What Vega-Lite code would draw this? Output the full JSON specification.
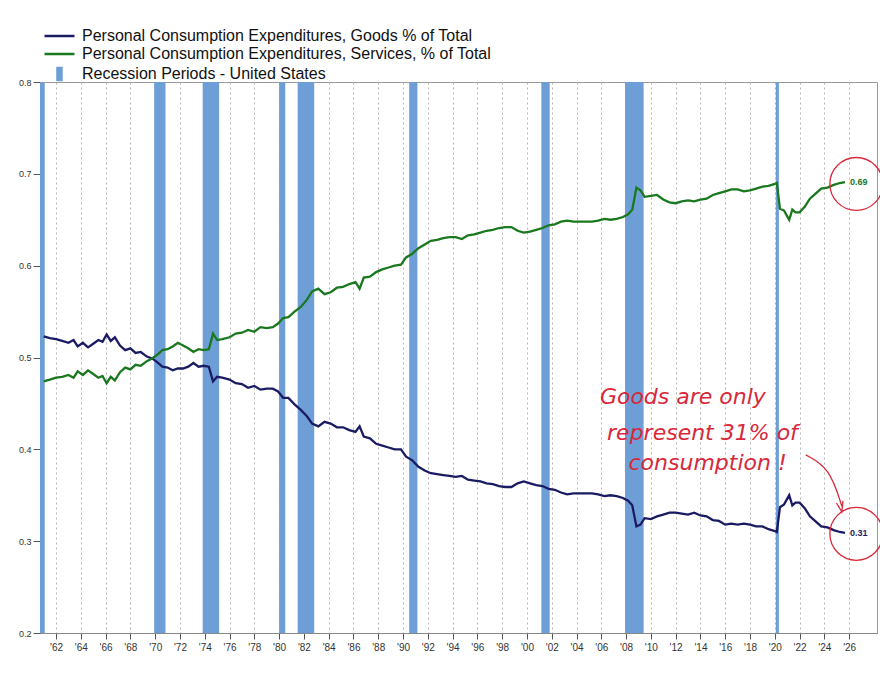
{
  "$schema": "https://vega.github.io/schema/vega-lite/v6.json",
  "width": 837,
  "height": 551,
  "autosize": {"type": "none"},
  "padding": {"left": 40, "top": 82, "right": 3, "bottom": 40},
  "background": "white",
  "config": {
    "font": "Liberation Sans",
    "view": {"stroke": "#9a9a9a", "strokeWidth": 1},
    "legend": {
      "orient": "none",
      "legendX": 3,
      "legendY": -55,
      "padding": 0,
      "symbolSize": 225,
      "symbolStrokeWidth": 2.5,
      "labelFontSize": 16,
      "labelFont": "Liberation Sans",
      "labelColor": "#111",
      "labelOffset": 21,
      "rowPadding": 1,
      "labelLimit": 600
    }
  },
  "datasets": {
    "recessions": [
      {"start": "1960-04-01", "end": "1961-02-01"},
      {"start": "1969-12-01", "end": "1970-11-01"},
      {"start": "1973-11-01", "end": "1975-03-01"},
      {"start": "1980-01-01", "end": "1980-07-01"},
      {"start": "1981-07-01", "end": "1982-11-01"},
      {"start": "1990-07-01", "end": "1991-03-01"},
      {"start": "2001-03-01", "end": "2001-11-01"},
      {"start": "2007-12-01", "end": "2009-06-01"},
      {"start": "2020-02-01", "end": "2020-05-01"}
    ],
    "goods": [
      {"date": "1961-01-01", "value": 0.523}, {"date": "1961-07-01", "value": 0.521}, {"date": "1962-01-01", "value": 0.520},
      {"date": "1962-07-01", "value": 0.518}, {"date": "1963-01-01", "value": 0.516}, {"date": "1963-06-01", "value": 0.519},
      {"date": "1963-10-01", "value": 0.512}, {"date": "1964-03-01", "value": 0.516}, {"date": "1964-08-01", "value": 0.511},
      {"date": "1965-01-01", "value": 0.515}, {"date": "1965-06-01", "value": 0.519}, {"date": "1965-10-01", "value": 0.517},
      {"date": "1966-02-01", "value": 0.525}, {"date": "1966-06-01", "value": 0.518}, {"date": "1966-10-01", "value": 0.522},
      {"date": "1967-03-01", "value": 0.513}, {"date": "1967-08-01", "value": 0.508}, {"date": "1968-01-01", "value": 0.510},
      {"date": "1968-06-01", "value": 0.505}, {"date": "1968-11-01", "value": 0.506}, {"date": "1969-05-01", "value": 0.501},
      {"date": "1969-10-01", "value": 0.499}, {"date": "1970-03-01", "value": 0.495}, {"date": "1970-08-01", "value": 0.490},
      {"date": "1971-01-01", "value": 0.489}, {"date": "1971-06-01", "value": 0.486}, {"date": "1971-11-01", "value": 0.488},
      {"date": "1972-04-01", "value": 0.488}, {"date": "1972-09-01", "value": 0.490}, {"date": "1973-02-01", "value": 0.494},
      {"date": "1973-07-01", "value": 0.490}, {"date": "1973-12-01", "value": 0.491}, {"date": "1974-05-01", "value": 0.490},
      {"date": "1974-09-01", "value": 0.474}, {"date": "1975-01-01", "value": 0.479}, {"date": "1975-06-01", "value": 0.478},
      {"date": "1976-01-01", "value": 0.476}, {"date": "1976-07-01", "value": 0.472}, {"date": "1977-01-01", "value": 0.471},
      {"date": "1977-07-01", "value": 0.467}, {"date": "1978-01-01", "value": 0.469}, {"date": "1978-07-01", "value": 0.465},
      {"date": "1979-01-01", "value": 0.466}, {"date": "1979-07-01", "value": 0.466}, {"date": "1979-12-01", "value": 0.463},
      {"date": "1980-05-01", "value": 0.456}, {"date": "1980-10-01", "value": 0.456}, {"date": "1981-04-01", "value": 0.449},
      {"date": "1981-10-01", "value": 0.443}, {"date": "1982-04-01", "value": 0.436}, {"date": "1982-09-01", "value": 0.428},
      {"date": "1983-03-01", "value": 0.425}, {"date": "1983-09-01", "value": 0.430}, {"date": "1984-03-01", "value": 0.428},
      {"date": "1984-09-01", "value": 0.424}, {"date": "1985-03-01", "value": 0.424}, {"date": "1985-09-01", "value": 0.421},
      {"date": "1986-03-01", "value": 0.419}, {"date": "1986-07-01", "value": 0.425}, {"date": "1986-11-01", "value": 0.414},
      {"date": "1987-05-01", "value": 0.412}, {"date": "1987-11-01", "value": 0.406}, {"date": "1988-05-01", "value": 0.404},
      {"date": "1988-11-01", "value": 0.402}, {"date": "1989-05-01", "value": 0.400}, {"date": "1989-11-01", "value": 0.400},
      {"date": "1990-04-01", "value": 0.392}, {"date": "1990-10-01", "value": 0.388}, {"date": "1991-04-01", "value": 0.381},
      {"date": "1991-10-01", "value": 0.377}, {"date": "1992-04-01", "value": 0.374}, {"date": "1992-10-01", "value": 0.373},
      {"date": "1993-04-01", "value": 0.372}, {"date": "1993-10-01", "value": 0.371}, {"date": "1994-04-01", "value": 0.370},
      {"date": "1994-10-01", "value": 0.371}, {"date": "1995-04-01", "value": 0.367}, {"date": "1995-10-01", "value": 0.366},
      {"date": "1996-04-01", "value": 0.365}, {"date": "1996-10-01", "value": 0.363}, {"date": "1997-04-01", "value": 0.362},
      {"date": "1997-10-01", "value": 0.360}, {"date": "1998-04-01", "value": 0.359}, {"date": "1998-10-01", "value": 0.359},
      {"date": "1999-04-01", "value": 0.363}, {"date": "1999-10-01", "value": 0.365}, {"date": "2000-04-01", "value": 0.363},
      {"date": "2000-10-01", "value": 0.361}, {"date": "2001-04-01", "value": 0.360}, {"date": "2001-10-01", "value": 0.357},
      {"date": "2002-04-01", "value": 0.356}, {"date": "2002-10-01", "value": 0.353}, {"date": "2003-04-01", "value": 0.351},
      {"date": "2003-10-01", "value": 0.352}, {"date": "2004-04-01", "value": 0.352}, {"date": "2004-10-01", "value": 0.352},
      {"date": "2005-04-01", "value": 0.352}, {"date": "2005-10-01", "value": 0.351}, {"date": "2006-04-01", "value": 0.349},
      {"date": "2006-10-01", "value": 0.350}, {"date": "2007-04-01", "value": 0.349}, {"date": "2007-10-01", "value": 0.347},
      {"date": "2008-03-01", "value": 0.344}, {"date": "2008-07-01", "value": 0.339}, {"date": "2008-11-01", "value": 0.316},
      {"date": "2009-03-01", "value": 0.318}, {"date": "2009-07-01", "value": 0.325}, {"date": "2010-01-01", "value": 0.324},
      {"date": "2010-07-01", "value": 0.327}, {"date": "2011-01-01", "value": 0.329}, {"date": "2011-07-01", "value": 0.331},
      {"date": "2012-01-01", "value": 0.331}, {"date": "2012-07-01", "value": 0.330}, {"date": "2013-01-01", "value": 0.329},
      {"date": "2013-07-01", "value": 0.331}, {"date": "2014-01-01", "value": 0.328}, {"date": "2014-07-01", "value": 0.327},
      {"date": "2015-01-01", "value": 0.323}, {"date": "2015-07-01", "value": 0.322}, {"date": "2016-01-01", "value": 0.318},
      {"date": "2016-07-01", "value": 0.319}, {"date": "2017-01-01", "value": 0.318}, {"date": "2017-07-01", "value": 0.319},
      {"date": "2018-01-01", "value": 0.318}, {"date": "2018-07-01", "value": 0.316}, {"date": "2019-01-01", "value": 0.316},
      {"date": "2019-07-01", "value": 0.313}, {"date": "2020-01-01", "value": 0.311}, {"date": "2020-03-01", "value": 0.310},
      {"date": "2020-06-01", "value": 0.337}, {"date": "2020-10-01", "value": 0.340}, {"date": "2021-03-01", "value": 0.350},
      {"date": "2021-06-01", "value": 0.339}, {"date": "2021-09-01", "value": 0.342}, {"date": "2022-01-01", "value": 0.342},
      {"date": "2022-06-01", "value": 0.336}, {"date": "2022-11-01", "value": 0.327}, {"date": "2023-04-01", "value": 0.322},
      {"date": "2023-10-01", "value": 0.316}, {"date": "2024-04-01", "value": 0.315}, {"date": "2024-10-01", "value": 0.312},
      {"date": "2025-04-01", "value": 0.310}, {"date": "2025-09-01", "value": 0.309}
    ],
    "services": [
      {"date": "1961-01-01", "value": 0.474}, {"date": "1961-07-01", "value": 0.476}, {"date": "1962-01-01", "value": 0.478},
      {"date": "1962-07-01", "value": 0.479}, {"date": "1963-01-01", "value": 0.481}, {"date": "1963-06-01", "value": 0.478},
      {"date": "1963-10-01", "value": 0.485}, {"date": "1964-03-01", "value": 0.481}, {"date": "1964-08-01", "value": 0.486},
      {"date": "1965-01-01", "value": 0.482}, {"date": "1965-06-01", "value": 0.478}, {"date": "1965-10-01", "value": 0.480},
      {"date": "1966-02-01", "value": 0.472}, {"date": "1966-06-01", "value": 0.479}, {"date": "1966-10-01", "value": 0.475},
      {"date": "1967-03-01", "value": 0.484}, {"date": "1967-08-01", "value": 0.489}, {"date": "1968-01-01", "value": 0.487},
      {"date": "1968-06-01", "value": 0.492}, {"date": "1968-11-01", "value": 0.491}, {"date": "1969-05-01", "value": 0.496},
      {"date": "1969-10-01", "value": 0.499}, {"date": "1970-03-01", "value": 0.503}, {"date": "1970-08-01", "value": 0.508},
      {"date": "1971-01-01", "value": 0.509}, {"date": "1971-06-01", "value": 0.512}, {"date": "1971-11-01", "value": 0.516},
      {"date": "1972-04-01", "value": 0.513}, {"date": "1972-09-01", "value": 0.510}, {"date": "1973-02-01", "value": 0.506},
      {"date": "1973-07-01", "value": 0.509}, {"date": "1973-12-01", "value": 0.508}, {"date": "1974-05-01", "value": 0.509},
      {"date": "1974-09-01", "value": 0.526}, {"date": "1975-01-01", "value": 0.519}, {"date": "1975-06-01", "value": 0.520},
      {"date": "1976-01-01", "value": 0.522}, {"date": "1976-07-01", "value": 0.526}, {"date": "1977-01-01", "value": 0.527},
      {"date": "1977-07-01", "value": 0.530}, {"date": "1978-01-01", "value": 0.528}, {"date": "1978-07-01", "value": 0.533},
      {"date": "1979-01-01", "value": 0.532}, {"date": "1979-07-01", "value": 0.533}, {"date": "1979-12-01", "value": 0.537},
      {"date": "1980-05-01", "value": 0.543}, {"date": "1980-10-01", "value": 0.544}, {"date": "1981-04-01", "value": 0.550},
      {"date": "1981-10-01", "value": 0.555}, {"date": "1982-04-01", "value": 0.563}, {"date": "1982-09-01", "value": 0.572},
      {"date": "1983-03-01", "value": 0.575}, {"date": "1983-09-01", "value": 0.569}, {"date": "1984-03-01", "value": 0.571},
      {"date": "1984-09-01", "value": 0.576}, {"date": "1985-03-01", "value": 0.577}, {"date": "1985-09-01", "value": 0.580},
      {"date": "1986-03-01", "value": 0.582}, {"date": "1986-07-01", "value": 0.575}, {"date": "1986-11-01", "value": 0.587},
      {"date": "1987-05-01", "value": 0.588}, {"date": "1987-11-01", "value": 0.593}, {"date": "1988-05-01", "value": 0.596},
      {"date": "1988-11-01", "value": 0.598}, {"date": "1989-05-01", "value": 0.600}, {"date": "1989-11-01", "value": 0.601},
      {"date": "1990-04-01", "value": 0.609}, {"date": "1990-10-01", "value": 0.613}, {"date": "1991-04-01", "value": 0.619},
      {"date": "1991-10-01", "value": 0.623}, {"date": "1992-04-01", "value": 0.627}, {"date": "1992-10-01", "value": 0.628},
      {"date": "1993-04-01", "value": 0.630}, {"date": "1993-10-01", "value": 0.631}, {"date": "1994-04-01", "value": 0.631},
      {"date": "1994-10-01", "value": 0.629}, {"date": "1995-04-01", "value": 0.633}, {"date": "1995-10-01", "value": 0.634},
      {"date": "1996-04-01", "value": 0.636}, {"date": "1996-10-01", "value": 0.638}, {"date": "1997-04-01", "value": 0.639},
      {"date": "1997-10-01", "value": 0.641}, {"date": "1998-04-01", "value": 0.642}, {"date": "1998-10-01", "value": 0.642},
      {"date": "1999-04-01", "value": 0.638}, {"date": "1999-10-01", "value": 0.636}, {"date": "2000-04-01", "value": 0.637},
      {"date": "2000-10-01", "value": 0.639}, {"date": "2001-04-01", "value": 0.641}, {"date": "2001-10-01", "value": 0.644},
      {"date": "2002-04-01", "value": 0.645}, {"date": "2002-10-01", "value": 0.648}, {"date": "2003-04-01", "value": 0.649},
      {"date": "2003-10-01", "value": 0.648}, {"date": "2004-04-01", "value": 0.648}, {"date": "2004-10-01", "value": 0.648},
      {"date": "2005-04-01", "value": 0.648}, {"date": "2005-10-01", "value": 0.649}, {"date": "2006-04-01", "value": 0.651},
      {"date": "2006-10-01", "value": 0.650}, {"date": "2007-04-01", "value": 0.651}, {"date": "2007-10-01", "value": 0.653},
      {"date": "2008-03-01", "value": 0.656}, {"date": "2008-07-01", "value": 0.661}, {"date": "2008-11-01", "value": 0.685},
      {"date": "2009-03-01", "value": 0.682}, {"date": "2009-07-01", "value": 0.675}, {"date": "2010-01-01", "value": 0.676},
      {"date": "2010-07-01", "value": 0.677}, {"date": "2011-01-01", "value": 0.672}, {"date": "2011-07-01", "value": 0.669},
      {"date": "2012-01-01", "value": 0.668}, {"date": "2012-07-01", "value": 0.670}, {"date": "2013-01-01", "value": 0.671},
      {"date": "2013-07-01", "value": 0.670}, {"date": "2014-01-01", "value": 0.672}, {"date": "2014-07-01", "value": 0.673},
      {"date": "2015-01-01", "value": 0.677}, {"date": "2015-07-01", "value": 0.679}, {"date": "2016-01-01", "value": 0.681},
      {"date": "2016-07-01", "value": 0.683}, {"date": "2017-01-01", "value": 0.683}, {"date": "2017-07-01", "value": 0.681},
      {"date": "2018-01-01", "value": 0.682}, {"date": "2018-07-01", "value": 0.684}, {"date": "2019-01-01", "value": 0.686},
      {"date": "2019-07-01", "value": 0.687}, {"date": "2020-01-01", "value": 0.689}, {"date": "2020-03-01", "value": 0.690},
      {"date": "2020-06-01", "value": 0.662}, {"date": "2020-10-01", "value": 0.660}, {"date": "2021-03-01", "value": 0.650},
      {"date": "2021-06-01", "value": 0.661}, {"date": "2021-09-01", "value": 0.658}, {"date": "2022-01-01", "value": 0.658},
      {"date": "2022-06-01", "value": 0.664}, {"date": "2022-11-01", "value": 0.673}, {"date": "2023-04-01", "value": 0.678},
      {"date": "2023-10-01", "value": 0.684}, {"date": "2024-04-01", "value": 0.685}, {"date": "2024-10-01", "value": 0.688},
      {"date": "2025-04-01", "value": 0.690}, {"date": "2025-09-01", "value": 0.691}
    ],
    "endLabels": [
      {"date": "2025-09-01", "value": 0.691, "label": "0.69", "series": "Personal Consumption Expenditures, Services, % of Total"},
      {"date": "2025-09-01", "value": 0.309, "label": "0.31", "series": "Personal Consumption Expenditures, Goods % of Total"}
    ],
    "circles": [
      {"date": "2026-08-01", "value": 0.689},
      {"date": "2026-08-01", "value": 0.308}
    ],
    "note": [
      {"date": "2012-08-01", "value": 0.457, "text": "Goods are only"},
      {"date": "2014-03-01", "value": 0.418, "text": "represent 31% of"},
      {"date": "2014-08-01", "value": 0.385, "text": "consumption !"}
    ],
    "arrow": [
      {"date": "2022-07-01", "value": 0.394, "order": 1},
      {"date": "2024-06-01", "value": 0.380, "order": 2},
      {"date": "2025-06-01", "value": 0.338, "order": 3}
    ],
    "arrowHead": [
      {"date": "2025-06-01", "value": 0.338}
    ]
  },
  "encoding": {
    "x": {
      "field": "date",
      "type": "temporal",
      "scale": {
        "type": "utc",
        "domain": [
          {"year": 1960, "month": 9, "date": 15, "utc": true},
          {"year": 2028, "month": 4, "date": 1, "utc": true}
        ]
      },
      "axis": {
        "title": null,
        "format": "'%y",
        "values": [
          {"year": 1962, "utc": true}, {"year": 1964, "utc": true}, {"year": 1966, "utc": true}, {"year": 1968, "utc": true},
          {"year": 1970, "utc": true}, {"year": 1972, "utc": true}, {"year": 1974, "utc": true}, {"year": 1976, "utc": true},
          {"year": 1978, "utc": true}, {"year": 1980, "utc": true}, {"year": 1982, "utc": true}, {"year": 1984, "utc": true},
          {"year": 1986, "utc": true}, {"year": 1988, "utc": true}, {"year": 1990, "utc": true}, {"year": 1992, "utc": true},
          {"year": 1994, "utc": true}, {"year": 1996, "utc": true}, {"year": 1998, "utc": true}, {"year": 2000, "utc": true},
          {"year": 2002, "utc": true}, {"year": 2004, "utc": true}, {"year": 2006, "utc": true}, {"year": 2008, "utc": true},
          {"year": 2010, "utc": true}, {"year": 2012, "utc": true}, {"year": 2014, "utc": true}, {"year": 2016, "utc": true},
          {"year": 2018, "utc": true}, {"year": 2020, "utc": true}, {"year": 2022, "utc": true}, {"year": 2024, "utc": true},
          {"year": 2026, "utc": true}
        ],
        "labelFontSize": 10,
        "labelColor": "#333",
        "labelPadding": 3,
        "labelFlush": false,
        "labelOverlap": false,
        "tickSize": 6,
        "tickColor": "#555",
        "domainColor": "#888",
        "grid": true,
        "gridDash": [2, 3],
        "gridColor": "#b5b5b5",
        "gridWidth": 1
      }
    },
    "y": {
      "field": "value",
      "type": "quantitative",
      "scale": {"domain": [0.2, 0.8], "nice": false, "zero": false},
      "axis": {
        "title": null,
        "values": [0.2, 0.3, 0.4, 0.5, 0.6, 0.7, 0.8],
        "format": ".1f",
        "labelFontSize": 9,
        "labelColor": "#333",
        "labelPadding": 2,
        "tickSize": 7,
        "tickColor": "#555",
        "domainColor": "#777",
        "grid": false
      }
    }
  },
  "layer": [
    {
      "data": {"name": "recessions"},
      "mark": {"type": "rect", "clip": true, "color": "#6d9fd6"},
      "encoding": {
        "x": {"field": "start", "type": "temporal"},
        "x2": {"field": "end"},
        "y": null,
        "color": {
          "datum": "Recession Periods - United States",
          "type": "nominal",
          "title": null,
          "scale": {
            "domain": [
              "Personal Consumption Expenditures, Goods % of Total",
              "Personal Consumption Expenditures, Services, % of Total",
              "Recession Periods - United States"
            ],
            "range": ["#1b1b63", "#1a781e", "#6d9fd6"]
          },
          "legend": {
            "title": null,
            "encode": {
              "symbols": {
                "update": {
                  "shape": {"signal": "datum.value === 'Recession Periods - United States' ? 'M0.73,-0.8h0.53v1.6h-0.53z' : 'M-1,0H3'"},
                  "fill": {"signal": "datum.value === 'Recession Periods - United States' ? '#6d9fd6' : 'transparent'"},
                  "stroke": {"signal": "datum.value === 'Recession Periods - United States' ? 'transparent' : (datum.value === 'Personal Consumption Expenditures, Goods % of Total' ? '#1b1b63' : '#1a781e')"},
                  "opacity": {"value": 1}
                }
              }
            }
          }
        }
      }
    },
    {
      "data": {"name": "goods"},
      "transform": [{"calculate": "'Personal Consumption Expenditures, Goods % of Total'", "as": "series"}],
      "mark": {"type": "line", "strokeWidth": 2.3, "clip": true},
      "encoding": {"color": {"field": "series", "type": "nominal", "title": null}}
    },
    {
      "data": {"name": "services"},
      "transform": [{"calculate": "'Personal Consumption Expenditures, Services, % of Total'", "as": "series"}],
      "mark": {"type": "line", "strokeWidth": 2.3, "clip": true},
      "encoding": {"color": {"field": "series", "type": "nominal", "title": null}}
    },
    {
      "data": {"name": "endLabels"},
      "mark": {"type": "text", "align": "left", "baseline": "middle", "dx": 5, "fontSize": 9, "fontWeight": "bold"},
      "encoding": {
        "text": {"field": "label"},
        "color": {"field": "series", "type": "nominal", "title": null}
      }
    },
    {
      "data": {"name": "circles"},
      "mark": {"type": "point", "shape": "circle", "filled": false, "size": 2800, "stroke": "#d8283a", "strokeWidth": 1.3, "opacity": 1}
    },
    {
      "data": {"name": "note"},
      "mark": {"type": "text", "align": "center", "baseline": "middle", "fontSize": 22, "font": "DejaVu Sans", "fontStyle": "italic", "color": "#d8283a"},
      "encoding": {"text": {"field": "text"}}
    },
    {
      "data": {"name": "arrow"},
      "mark": {"type": "line", "interpolate": "basis", "color": "#d8283a", "strokeWidth": 1.3},
      "encoding": {"order": {"field": "order"}}
    },
    {
      "data": {"name": "arrowHead"},
      "mark": {"type": "point", "shape": "M-1,-0.6L0,1L0.2,-1", "filled": false, "size": 120, "stroke": "#d8283a", "strokeWidth": 1.3, "opacity": 1}
    }
  ]
}
